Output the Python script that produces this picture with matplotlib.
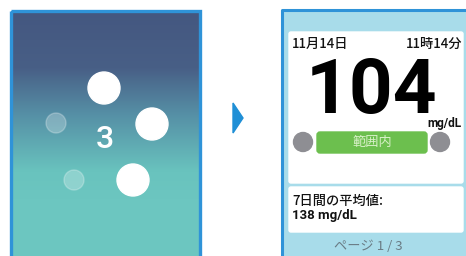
import numpy as np
import matplotlib.pyplot as plt
from matplotlib.patches import Rectangle, Circle, FancyBboxPatch, Polygon
from matplotlib.colors import LinearSegmentedColormap

plt.rcParams['font.family'] = ['Noto Sans CJK JP', 'DejaVu Sans']

# данные экрана
countdown = "3"
date_label = "11月14日"
time_label = "11時14分"
glucose_value = 104
unit = "mg/dL"
status_label = "範囲内"
avg_label = "7日間の平均値:"
avg_value = 138
page_label = "ページ 1 / 3"

fig = plt.figure(figsize=(4.66, 2.56), dpi=100)
ax = fig.add_axes([0, 0, 1, 1])
ax.set_xlim(0, 466)
ax.set_ylim(256, 0)
ax.axis('off')

# левая панель: градиент
grad = LinearSegmentedColormap.from_list(
    'g', [(0, '#445780'), (0.3, '#485f86'), (0.55, '#5690a6'), (0.85, '#69c3be'), (1, '#6cc6c0')])
img = np.linspace(0, 1, 256).reshape(-1, 1)
ax.imshow(img, cmap=grad, extent=(12, 199, 200, 11), aspect='auto', zorder=1)
ax.add_patch(Rectangle((12, 199), 187, 62, color='#6cc6c0', zorder=1))
ax.add_patch(Rectangle((10.5, 10.5), 189.5, 250, fill=False, ec='#2f93d8', lw=2.4, zorder=2))

for (cx, cy, r, a) in [(104, 88, 16, 1), (152, 124, 16, 1), (133, 180, 16, 1),
                       (56, 123, 10, 0.25), (74, 180, 10, 0.25)]:
    ax.add_patch(Circle((cx, cy), r, color='white', alpha=a, zorder=3))
ax.text(105, 140, countdown, color='white', fontsize=23, ha='center', va='center',
        fontweight='medium', family='Roboto', zorder=3)

# стрелка
ax.add_patch(Polygon([(233, 103), (233, 133), (243, 118)], color='#1f8fd6', zorder=3))

# правая панель
ax.add_patch(Rectangle((282, 10), 190, 250, color='#a8dcea', zorder=1))
ax.plot([282, 282, 470], [260, 10, 10], color='#2f93d8', lw=2.2, zorder=2)

ax.add_patch(FancyBboxPatch((289, 32), 174, 151, boxstyle='round,pad=0,rounding_size=2',
                            color='white', zorder=2))
ax.add_patch(FancyBboxPatch((289, 187), 174, 45, boxstyle='round,pad=0,rounding_size=2',
                            color='white', zorder=2))

ax.text(292, 44, date_label, fontsize=9.5, ha='left', va='center', color='#111111',
        fontweight='medium', zorder=4)
ax.text(462, 44, time_label, fontsize=9.5, ha='right', va='center', color='#111111',
        fontweight='medium', zorder=4)
ax.text(371, 85, str(glucose_value), fontsize=55, ha='center', va='center_baseline',
        fontweight='bold', color='black', family='Roboto', zorder=4)
ax.text(462, 124, unit, fontsize=8.5, ha='right', va='center', color='#111111',
        fontweight='bold', family='Roboto', zorder=4)

ax.add_patch(FancyBboxPatch((317, 132), 110, 21, boxstyle='round,pad=0,rounding_size=3',
                            color='#6cbf4e', zorder=3))
ax.text(372, 142.5, status_label, fontsize=9.5, ha='center', va='center', color='#d8f0c8', zorder=4)
ax.add_patch(Circle((303, 142), 9.5, color='#8e8e93', zorder=3))
ax.add_patch(Circle((440, 142), 9.5, color='#8e8e93', zorder=3))

ax.text(292, 201, avg_label, fontsize=9.5, ha='left', va='center', color='#111111',
        fontweight='medium', zorder=4)
ax.text(292, 216, f"{avg_value} mg/dL", fontsize=9.5, ha='left', va='center', color='#111111',
        fontweight='bold', family='Roboto', zorder=4)
ax.text(368, 247, page_label, fontsize=9.5, ha='center', va='center', color='#6a7c85', zorder=4)

fig.savefig('out.png', dpi=100)
